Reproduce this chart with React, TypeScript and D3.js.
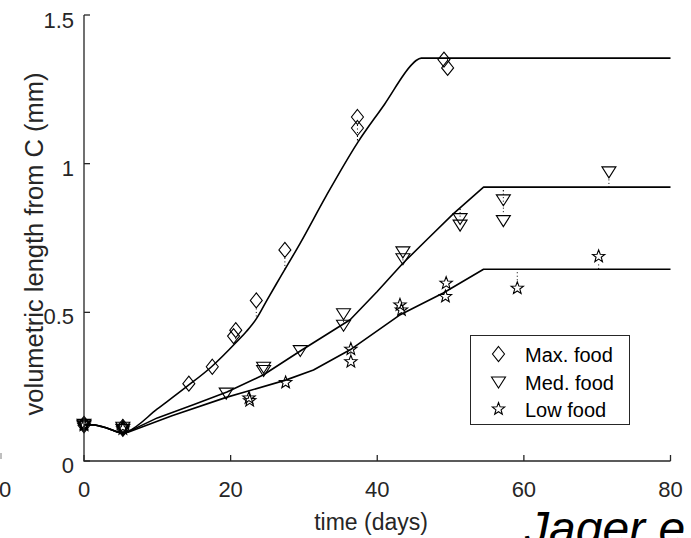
import React from "react";
import * as d3 from "d3";

// measured data (time in days, volumetric length in mm)
const maxT = [0, 0, 5.3, 5.3, 14.3, 17.5, 20.4, 20.7, 23.5, 27.4, 37.3, 37.3, 49.1, 49.6];
const maxV = [0.125, 0.12, 0.115, 0.108, 0.26, 0.317, 0.42, 0.44, 0.54, 0.71, 1.157, 1.12, 1.35, 1.322];

const medT = [0, 0, 5.3, 5.3, 19.4, 24.5, 24.5, 29.5, 35.4, 35.4, 43.5, 43.5, 51.3, 51.3, 57.2, 57.2, 71.6];
const medV = [0.125, 0.12, 0.115, 0.108, 0.23, 0.317, 0.306, 0.373, 0.497, 0.458, 0.705, 0.682, 0.817, 0.795, 0.88, 0.81, 0.974];

const lowT = [0, 0, 5.3, 5.3, 22.5, 22.6, 27.5, 36.4, 36.4, 43.1, 43.3, 49.4, 49.3, 59.1, 70.2];
const lowV = [0.125, 0.12, 0.115, 0.108, 0.212, 0.203, 0.264, 0.376, 0.334, 0.525, 0.508, 0.598, 0.553, 0.581, 0.688];

// model fits
const maxModelT = [0, 1.5, 3, 4.5, 5.3, 6, 10, 14, 17.4, 20.8, 22.2, 23.5, 25, 26.7, 29.5, 33, 37.3, 41, 44.7, 45.3, 46, 80];
const maxModelV = [0.122, 0.121, 0.112, 0.098, 0.095, 0.1, 0.175, 0.25, 0.317, 0.4, 0.437, 0.478, 0.543, 0.615, 0.733, 0.89, 1.07, 1.2, 1.333, 1.347, 1.355, 1.355];

const medModelT = [0, 1.5, 3, 4.5, 5.3, 6, 10, 15, 19.5, 24.5, 29.5, 36.3, 40, 43.5, 47, 50.4, 54.5, 80];
const medModelV = [0.122, 0.121, 0.112, 0.098, 0.095, 0.098, 0.145, 0.19, 0.232, 0.29, 0.37, 0.475, 0.57, 0.665, 0.75, 0.832, 0.921, 0.921];

const lowModelT = [0, 1.5, 3, 4.5, 5.3, 6, 12, 19.4, 27.5, 31.3, 36.3, 43, 49, 54.5, 80];
const lowModelV = [0.122, 0.121, 0.112, 0.098, 0.095, 0.097, 0.152, 0.214, 0.272, 0.306, 0.374, 0.49, 0.565, 0.645, 0.645];

const xTicks = [0, 20, 40, 60, 80];
const yTicks = [0, 0.5, 1, 1.5];
const yTickLabels = ["0", "0.5", "1", "1.5"];
const legendLabels = ["Max. food", "Med. food", "Low food"];

const W = 691, H = 538;
const FONT = "'Liberation Sans', Arial, sans-serif";
const AX = "#262626";

const x = d3.scaleLinear().domain([0, 80]).range([84, 670.5]);
const y = d3.scaleLinear().domain([0, 1.5]).range([461, 15]);

const diamond = "M0,-7.5L6,0L0,7.5L-6,0Z";
const triangle = "M-7,-4.5L7,-4.5L0,6.5Z";
const star = (() => {
  const pts: string[] = [];
  for (let i = 0; i < 10; i++) {
    const r = i % 2 === 0 ? 6.5 : 2.7;
    const a = -Math.PI / 2 + (i * Math.PI) / 5;
    pts.push(`${(r * Math.cos(a)).toFixed(2)},${(r * Math.sin(a)).toFixed(2)}`);
  }
  return "M" + pts.join("L") + "Z";
})();

const series = [
  { t: maxT, v: maxV, mt: maxModelT, mv: maxModelV, shape: diamond, curve: d3.curveMonotoneX },
  { t: medT, v: medV, mt: medModelT, mv: medModelV, shape: triangle, curve: d3.curveLinear },
  { t: lowT, v: lowV, mt: lowModelT, mv: lowModelV, shape: star, curve: d3.curveLinear },
];

function modelAt(mt: number[], mv: number[], t: number) {
  const i = d3.bisectRight(mt, t);
  if (i <= 0) return mv[0];
  if (i >= mt.length) return mv[mv.length - 1];
  const f = (t - mt[i - 1]) / (mt[i] - mt[i - 1]);
  return mv[i - 1] + f * (mv[i] - mv[i - 1]);
}

export default function App() {
  return (
    <svg width={W} height={H} style={{ position: "absolute", left: 0, top: 0, background: "#fff" }} fontFamily={FONT}>
      {/* stray bits from neighbouring panel */}
      <line x1={1} x2={1} y1={453} y2={459} stroke="#aaa" strokeWidth={1.5} />
      <text x={5} y={497} fontSize={22} fill={AX} textAnchor="middle">0</text>

      {/* residual stems */}
      {series.map((s, si) =>
        s.t.map((t, i) => {
          const py = y(s.v[i]);
          const my = y(modelAt(s.mt, s.mv, t));
          if (Math.abs(my - py) < 9) return null;
          const sgn = my > py ? 1 : -1;
          return (
            <line key={`st${si}-${i}`} x1={x(t)} x2={x(t)} y1={py + sgn * 8} y2={my}
              stroke="#000" strokeWidth={1} strokeDasharray="1,2.5" />
          );
        })
      )}

      {/* model lines */}
      {series.map((s, si) => {
        const line = d3.line<[number, number]>().x(d => x(d[0])).y(d => y(d[1])).curve(s.curve);
        return (
          <path key={`m${si}`} d={line(s.mt.map((t, i) => [t, s.mv[i]]) as [number, number][]) || ""}
            fill="none" stroke="#000" strokeWidth={1.6} strokeLinejoin="round" />
        );
      })}

      {/* markers */}
      {series.map((s, si) =>
        s.t.map((t, i) => (
          <path key={`p${si}-${i}`} d={s.shape} transform={`translate(${x(t)},${y(s.v[i])})`}
            fill="none" stroke="#000" strokeWidth={1.1} />
        ))
      )}

      {/* axes */}
      <path d={`M${x(0)},${y(1.5)}V${y(0)}H${x(80)}`} fill="none" stroke={AX} strokeWidth={1.3} />
      {yTicks.map(v => (
        <line key={`yt${v}`} x1={x(0)} x2={x(0) + 6} y1={y(v)} y2={y(v)} stroke={AX} strokeWidth={1.3} />
      ))}
      {xTicks.map(t => (
        <line key={`xt${t}`} x1={x(t)} x2={x(t)} y1={y(0)} y2={y(0) - 6} stroke={AX} strokeWidth={1.3} />
      ))}
      {yTicks.map((v, i) => (
        <text key={`yl${v}`} x={74} y={y(v) + (v === 1.5 ? 13 : 12)} fontSize={22} fill={AX} textAnchor="end">
          {yTickLabels[i]}
        </text>
      ))}
      {xTicks.map(t => (
        <text key={`xl${t}`} x={x(t)} y={497} fontSize={22} fill={AX} textAnchor="middle">{t}</text>
      ))}
      <text x={371} y={530} fontSize={23} fill={AX} textAnchor="middle">time (days)</text>
      <text transform="translate(43,244) rotate(-90)" fontSize={25.5} fill={AX} textAnchor="middle">
        volumetric length from C (mm)
      </text>

      {/* legend */}
      <rect x={470.5} y={335.5} width={159} height={89} fill="#fff" stroke={AX} strokeWidth={1} />
      {legendLabels.map((lab, i) => (
        <g key={lab} transform={`translate(0,${i * 27.5})`}>
          <path d={series[i].shape} transform={`translate(498.5,354)`} fill="none" stroke="#000" strokeWidth={1.1} />
          <text x={525} y={362} fontSize={20} fill="#000">{lab}</text>
        </g>
      ))}

      <text x={525} y={545} fontSize={48} fontStyle="italic" fill="#000">Jager e</text>
    </svg>
  );
}
